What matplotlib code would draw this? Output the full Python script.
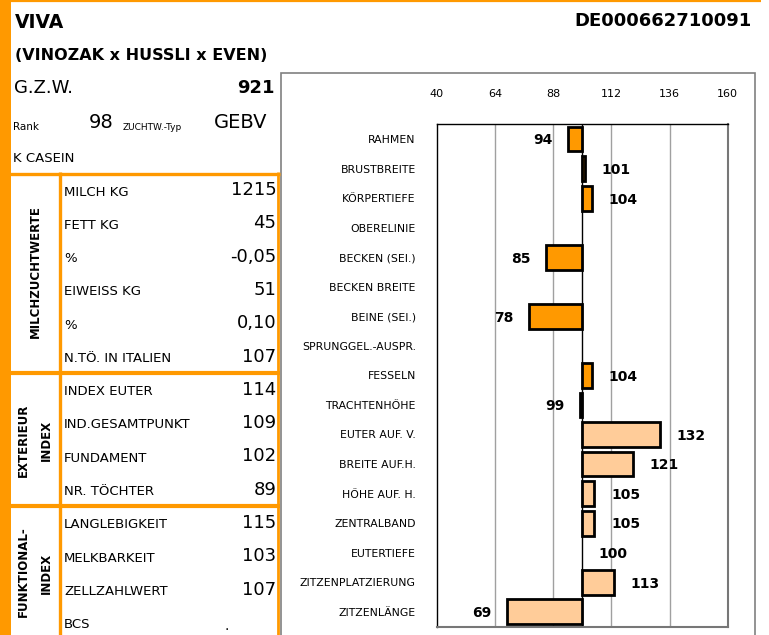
import matplotlib
matplotlib.use('Agg')
import matplotlib.pyplot as plt
from matplotlib.lines import Line2D
from matplotlib.patches import Rectangle
import numpy as np

# Daten
merkmale = ['RAHMEN', 'BRUSTBREITE', 'KŐRPERTIEFE', 'OBERELINIE', 'BECKEN (SEI.)',
            'BECKEN BREITE', 'BEINE (SEI.)', 'SPRUNGGEL.-AUSPR.', 'FESSELN',
            'TRACHTENHŐHE', 'EUTER AUF. V.', 'BREITE AUF.H.', 'HŐHE AUF. H.',
            'ZENTRALBAND', 'EUTERTIEFE', 'ZITZENPLATZIERUNG', 'ZITZENLÄNGE']
werte = [94, 101, 104, None, 85, None, 78, None, 104,
         99, 132, 121, 105, 105, 100, 113, 69]
gruppe = ['F'] * 9 + ['E'] * 8   # F = Fundament (orange), E = Euter (hell)
x_ticks = [40, 64, 88, 112, 136, 160]

milch_labels = ['MILCH KG', 'FETT KG', '%', 'EIWEISS KG', '%', 'N.TÖ. IN ITALIEN']
milch_werte = ['1215', '45', '-0,05', '51', '0,10', '107']
ext_labels = ['INDEX EUTER', 'IND.GESAMTPUNKT', 'FUNDAMENT', 'NR. TÖCHTER']
ext_werte = ['114', '109', '102', '89']
funk_labels = ['LANGLEBIGKEIT', 'MELKBARKEIT', 'ZELLZAHLWERT', 'BCS']
funk_werte = ['115', '103', '107', '']

ORANGE = '#FF9900'
HELL = '#FFCC99'
W, H = 769, 635


def fx(x):
    return x / W


def fy(y):
    return 1 - y / H


fig = plt.figure(figsize=(W / 100, H / 100), dpi=100)
fig.patch.set_facecolor('white')


def txt(x, y, s, **kw):
    fig.text(fx(x), fy(y), s, **kw)


def hline(y, x0, x1, lw, color=ORANGE):
    fig.add_artist(Line2D([fx(x0), fx(x1)], [fy(y), fy(y)], transform=fig.transFigure,
                          color=color, lw=lw, solid_capstyle='butt'))


def vline(x, y0, y1, lw, color=ORANGE):
    fig.add_artist(Line2D([fx(x), fx(x)], [fy(y0), fy(y1)], transform=fig.transFigure,
                          color=color, lw=lw, solid_capstyle='butt'))


# Rahmen orange
fig.add_artist(Rectangle((0, 0), fx(10.5), 1, transform=fig.transFigure,
                         facecolor=ORANGE, edgecolor='none'))
hline(1, 0, 761, 1.6)

# Kopf
txt(15, 22, 'VIVA', fontsize=13.5, fontweight='bold', va='center')
txt(752, 21, 'DE000662710091', fontsize=13, fontweight='bold', va='center', ha='right')
txt(15, 56, '(VINOZAK x HUSSLI x EVEN)', fontsize=11.5, fontweight='bold', va='center')
txt(14, 88, 'G.Z.W.', fontsize=13, va='center')
txt(275, 88, '921', fontsize=13, fontweight='bold', va='center', ha='right')
txt(13, 127, 'Rank', fontsize=7.5, va='center')
txt(114, 123, '98', fontsize=14, va='center', ha='right')
txt(123, 127, 'ZUCHTW.-Typ', fontsize=6.5, va='center')
txt(267, 123, 'GEBV', fontsize=14, va='center', ha='right')
txt(13, 159, 'K CASEIN', fontsize=9.5, va='center')

# Tabelle Linien
hline(173.5, 10, 279.5, 2.4)
hline(373, 10, 279.5, 3.0)
hline(505.5, 10, 279.5, 3.0)
vline(59.5, 172, 635, 2.4)
vline(278, 172, 635, 2.0)

# Tabellen-Inhalte
for labels, vals, y0 in [(milch_labels, milch_werte, 192),
                         (ext_labels, ext_werte, 391.7),
                         (funk_labels, funk_werte, 525)]:
    for i, (lab, v) in enumerate(zip(labels, vals)):
        y = y0 + i * 33.3
        txt(64, y, lab, fontsize=9.5, va='center')
        txt(276.5, y - 2, v, fontsize=13, va='center', ha='right')
txt(227, 626, '.', fontsize=10, va='center', ha='center')

# Gruppentitel (gedreht)
txt(35, 272, 'MILCHZUCHTWERTE', fontsize=8.5, fontweight='bold', rotation=90,
    va='center', ha='center')
txt(23.5, 440, 'EXTERIEUR', fontsize=8.5, fontweight='bold', rotation=90,
    va='center', ha='center')
txt(46, 440, 'INDEX', fontsize=8.5, fontweight='bold', rotation=90,
    va='center', ha='center')
txt(23.5, 572, 'FUNKTIONAL-', fontsize=8.5, fontweight='bold', rotation=90,
    va='center', ha='center')
txt(46, 573, 'INDEX', fontsize=8.5, fontweight='bold', rotation=90,
    va='center', ha='center')

# Diagramm-Rahmen
fig.add_artist(Rectangle((fx(281), fy(645)), fx(755) - fx(281), fy(72.5) - fy(645),
                         transform=fig.transFigure, fill=False,
                         edgecolor='#808080', lw=1.2))

# Balkendiagramm
ax = fig.add_axes([fx(436.7), fy(626.5), fx(727.7) - fx(436.7), fy(124.3) - fy(626.5)])
ax.set_xlim(40, 160)
ax.set_ylim(len(merkmale) - 0.5, -0.5)

for xv in x_ticks[1:-1]:
    ax.axvline(xv, color='#A0A0A0', lw=1, zorder=0)
ax.axvline(100, color='black', lw=1, zorder=1)

for i, (v, g) in enumerate(zip(werte, gruppe)):
    if v is None:
        continue
    col = ORANGE if g == 'F' else HELL
    if v != 100:
        ax.barh(i, v - 100, left=100, height=0.84, color=col,
                edgecolor='black', lw=2, zorder=3)
    if v >= 100:
        ax.annotate(str(v), xy=(v, i), xytext=(12, -1), textcoords='offset points',
                    ha='left', va='center', fontsize=10, fontweight='bold')
    else:
        ax.annotate(str(v), xy=(v, i), xytext=(-11, -1), textcoords='offset points',
                    ha='right', va='center', fontsize=10, fontweight='bold')

ax.set_yticks(range(len(merkmale)))
ax.set_yticklabels(merkmale, fontsize=7.8)
ax.tick_params(axis='y', length=0, pad=15)
ax.xaxis.tick_top()
ax.set_xticks(x_ticks)
ax.set_xticklabels([str(t) for t in x_ticks], fontsize=8)
ax.tick_params(axis='x', length=0, pad=18)

for s in ['top', 'left']:
    ax.spines[s].set_color('black')
    ax.spines[s].set_linewidth(1)
for s in ['right', 'bottom']:
    ax.spines[s].set_color('#777777')
    ax.spines[s].set_linewidth(1.5)

fig.savefig('out.png', dpi=100)
